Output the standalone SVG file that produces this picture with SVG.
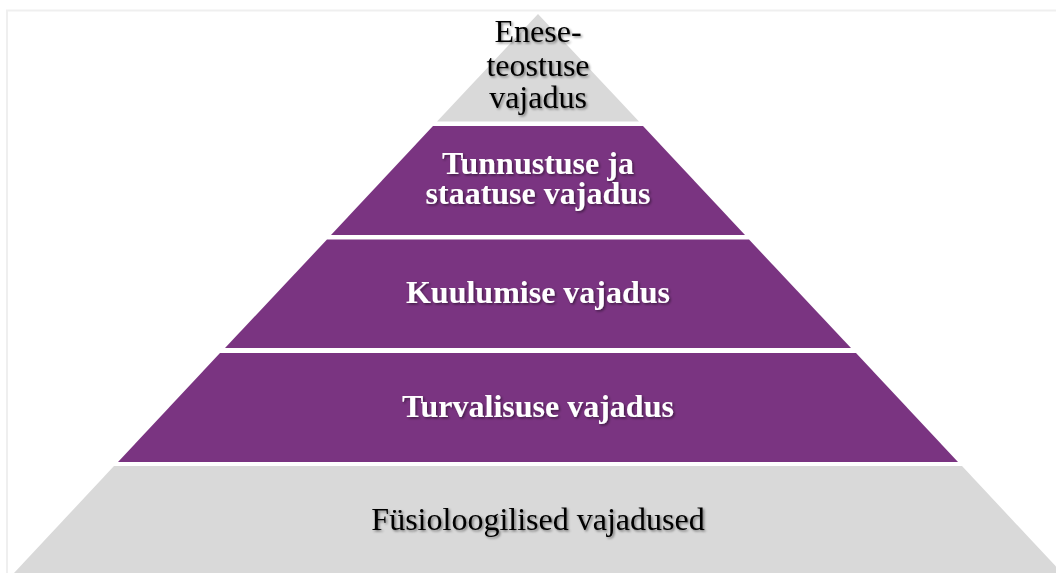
<svg xmlns="http://www.w3.org/2000/svg" width="1056" height="573" viewBox="0 0 1056 573">
<defs>
<style>
.gray{fill:#D9D9D9}
.purple{fill:#7A3481}
.t{font-family:"Liberation Serif","Times New Roman",serif;text-anchor:middle;filter:url(#sh)}
.w{fill:#FFFFFF;font-weight:bold;font-size:32px}
.b{fill:#000000;font-size:32px}
</style>
<filter id="sh" x="-10%" y="-30%" width="120%" height="160%">
<feDropShadow dx="1.5" dy="1.5" stdDeviation="1" flood-color="#000" flood-opacity="0.45"/>
</filter>
</defs>
<rect x="7" y="10.5" width="1060" height="580" fill="#FFFFFF" stroke="#EFEFEF" stroke-width="2"/>
<g id="layer1">
<polygon class="gray" points="538,14 639,121.5 437,121.5"/>
<text class="t b" x="538" y="42" font-size="30">Enese-</text>
<text class="t b" x="538" y="76" font-size="30">teostuse</text>
<text class="t b" x="538" y="108" font-size="30">vajadus</text>
</g>
<g id="layer2">
<polygon class="purple" points="433,126 643,126 745,235 331,235"/>
<text class="t w" x="538" y="174">Tunnustuse ja</text>
<text class="t w" x="538" y="204">staatuse vajadus</text>
</g>
<g id="layer3">
<polygon class="purple" points="327,239.5 749,239.5 851,348 225,348"/>
<text class="t w" x="538" y="303">Kuulumise vajadus</text>
</g>
<g id="layer4">
<polygon class="purple" points="220,353 856,353 958,462 118,462"/>
<text class="t w" x="538" y="417">Turvalisuse vajadus</text>
</g>
<g id="layer5">
<polygon class="gray" points="114,466 962,466 1062,573 14,573"/>
<text class="t b" x="538" y="530">Füsioloogilised vajadused</text>
</g>
</svg>
